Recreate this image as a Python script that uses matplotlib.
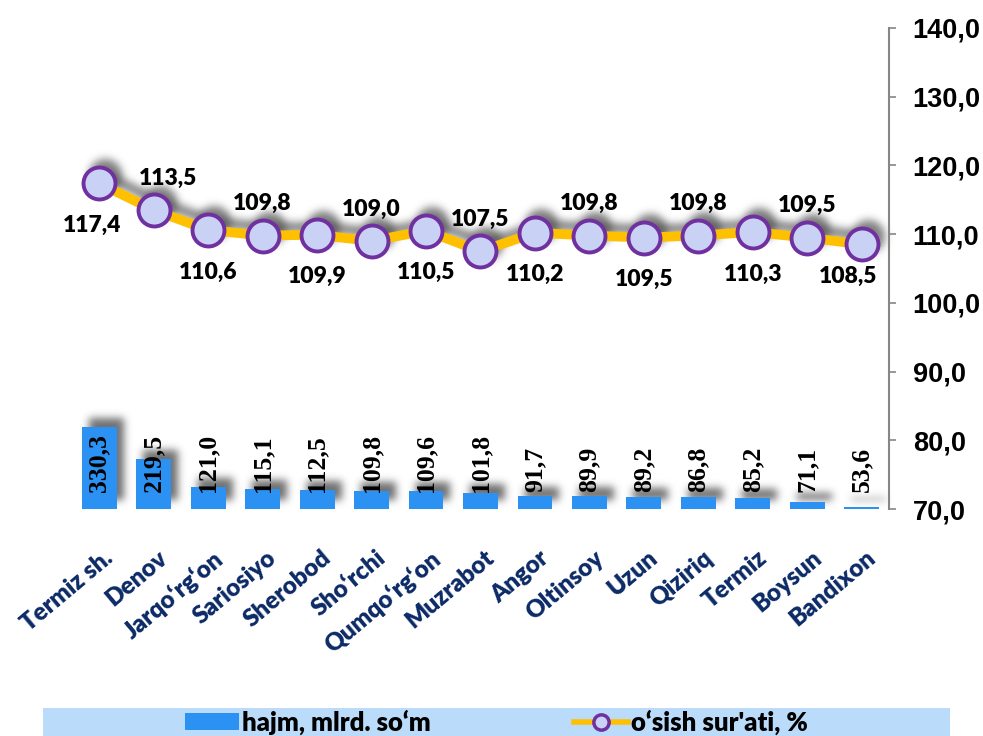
import numpy as np
import matplotlib.pyplot as plt
import matplotlib.transforms as mtransforms
from matplotlib.patches import Rectangle, Patch
from matplotlib.lines import Line2D

districts = ['Termiz sh.', 'Denov', 'Jarqo‘rg‘on', 'Sariosiyo', 'Sherobod', 'Sho‘rchi',
             'Qumqo‘rg‘on', 'Muzrabot', 'Angor', 'Oltinsoy', 'Uzun', 'Qiziriq',
             'Termiz', 'Boysun', 'Bandixon']
volume = [330.3, 219.5, 121.0, 115.1, 112.5, 109.8, 109.6, 101.8,
          91.7, 89.9, 89.2, 86.8, 85.2, 71.1, 53.6]
growth = [117.4, 113.5, 110.6, 109.8, 109.9, 109.0, 110.5, 107.5,
          110.2, 109.8, 109.5, 109.8, 110.3, 109.5, 108.5]
right_ticks = [70, 80, 90, 100, 110, 120, 130, 140]
legend_labels = ['hajm, mlrd. so‘m', 'o‘sish sur\'ati, %']

BAR_COLOR = '#2b91f3'
LINE_COLOR = '#ffc000'
MARKER_EDGE = '#7030a0'
MARKER_FACE = '#c9d2f5'
TICK_COLOR = '#0b2a66'
BAND_COLOR = '#badcfa'

# Calibri stand-in: Lato ExtraBold
SANS = 'Lato'
HEAVY = 'heavy'


def fmt(v):
    return f'{v:.1f}'.replace('.', ',')


class BlurShadow:
    """agg filter: turn an artist into a soft, shifted grey shadow"""

    def __init__(self, sigma=4, dx=6, dy=8, alpha=0.7, gray=0.3):
        self.sigma, self.dx, self.dy = sigma, dx, dy
        self.alpha, self.gray = alpha, gray
        r = int(3 * sigma)
        t = np.arange(-r, r + 1)
        k = np.exp(-t ** 2 / (2.0 * sigma ** 2))
        self.kernel = k / k.sum()
        self.pad = r + max(abs(dx), abs(dy)) + 2

    def __call__(self, im, dpi):
        a = np.pad(im[..., 3], self.pad)
        a = np.roll(a, self.dx, axis=1)
        a = np.roll(a, -self.dy, axis=0)
        conv = lambda row: np.convolve(row, self.kernel, mode='same')
        a = np.apply_along_axis(conv, 0, a)
        a = np.apply_along_axis(conv, 1, a)
        out = np.zeros(a.shape + (4,))
        out[..., :3] = self.gray
        out[..., 3] = np.clip(a * self.alpha, 0, 1)
        return out, -self.pad, -self.pad


fig = plt.figure(figsize=(9.83, 7.36), dpi=100)
ax = fig.add_axes([0.0732, 0.3084, 0.8312, 0.6536])
x = np.arange(len(districts))

# bars (hidden primary axis) with soft shadows behind them
shadow_bars = ax.bar(x, volume, width=0.64, color='k', zorder=1)
bar_shadow = BlurShadow(sigma=4, dx=7, dy=9, alpha=0.8)
for b in shadow_bars:
    b.set_agg_filter(bar_shadow)
ax.bar(x, volume, width=0.64, color=BAR_COLOR, zorder=2)
ax.set_ylim(46, 1710)
ax.set_xlim(-0.5, len(districts) - 0.5)
for side in ['left', 'right', 'top', 'bottom']:
    ax.spines[side].set_visible(False)
ax.set_yticks([])
ax.set_xticks(x)
ax.set_xticklabels(districts, rotation=40, ha='right', va='top',
                   rotation_mode='anchor', color=TICK_COLOR,
                   fontsize=17.5, fontweight=HEAVY, family=SANS)
ax.tick_params(axis='x', length=0, pad=27)
shift = mtransforms.ScaledTranslation(4 / 100, 0, fig.dpi_scale_trans)
for lbl in ax.get_xticklabels():
    lbl.set_transform(lbl.get_transform() + shift)

for xi, v in zip(x, volume):
    ax.text(xi, 0.035, fmt(v), transform=ax.get_xaxis_transform(),
            rotation=90, ha='center', va='bottom', fontsize=18.5,
            fontweight='bold', family='Liberation Serif', color='black', zorder=5)

# growth line on the right axis
ax2 = ax.twinx()
line_shadow = BlurShadow(sigma=4, dx=6, dy=8, alpha=0.7)
s1, = ax2.plot(x, growth, color='k', linewidth=7, zorder=1)
s2, = ax2.plot(x, growth, linestyle='none', marker='o', markersize=23,
               color='k', zorder=1)
s1.set_agg_filter(line_shadow)
s2.set_agg_filter(line_shadow)
ax2.plot(x, growth, color=LINE_COLOR, linewidth=7, solid_capstyle='round', zorder=3)
ax2.plot(x, growth, linestyle='none', marker='o', markersize=23,
         markerfacecolor=MARKER_FACE, markeredgecolor=MARKER_EDGE,
         markeredgewidth=2.8, zorder=4)
ax2.set_ylim(70, 140)
ax2.set_yticks(right_ticks)
ax2.set_yticklabels([fmt(t) for t in right_ticks], fontsize=19.5,
                    fontweight='bold', family='Liberation Sans')
ax2.tick_params(axis='y', direction='out', length=5, width=1.2,
                color='#868686', pad=12)
for side in ['left', 'top', 'bottom']:
    ax2.spines[side].set_visible(False)
ax2.spines['right'].set_color('#868686')
ax2.spines['right'].set_linewidth(1.5)

for i, v in enumerate(growth):
    dy = -42 if i % 2 == 0 else 32
    dx = 0
    if i == 0:
        dx = -7
    elif i == 1:
        dx = 14
    elif i == len(growth) - 1:
        dx, dy = -14, -32
    ax2.annotate(fmt(v), (i, v), xytext=(dx, dy), textcoords='offset pixels',
                 ha='center', va='center', fontsize=16.5, fontweight=HEAVY,
                 family=SANS, color='black', zorder=6)

# legend band at the bottom
fig.patches.append(Rectangle((0.0437, 0.0), 0.9227, 0.038, transform=fig.transFigure,
                             facecolor=BAND_COLOR, edgecolor='none', zorder=0))
handles = [
    Patch(facecolor=BAR_COLOR, edgecolor='none'),
    Line2D([], [], color=LINE_COLOR, linewidth=4, marker='o', markersize=11,
           markerfacecolor=MARKER_FACE, markeredgecolor=MARKER_EDGE,
           markeredgewidth=2.5),
]
fig.legend(handles, legend_labels, loc='center', bbox_to_anchor=(0.505, 0.019),
           ncol=2, frameon=False, handlelength=2.1, handleheight=0.6,
           handletextpad=0.12, columnspacing=5.6, borderaxespad=0, borderpad=0,
           prop={'family': SANS, 'weight': HEAVY, 'size': 18.5})

fig.savefig('out.png', dpi=100)
